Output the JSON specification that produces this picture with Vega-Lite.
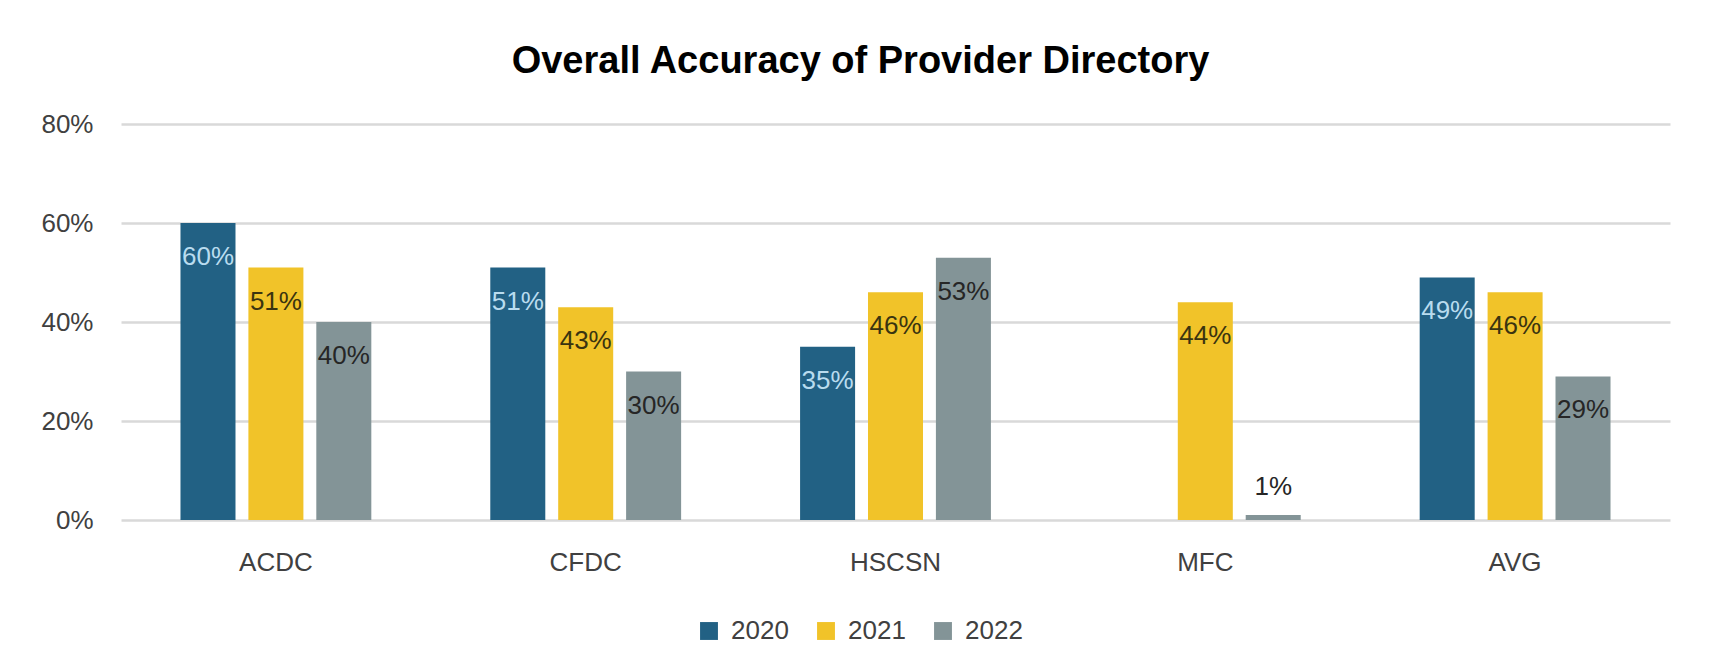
{
  "$schema": "https://vega.github.io/schema/vega-lite/v6.json",
  "autosize": {"type": "none"},
  "padding": {"left": 121, "top": 124, "right": 41, "bottom": 151},
  "width": 1549,
  "height": 396,
  "background": "#ffffff",
  "config": {"view": {"stroke": null}},
  "title": {
    "text": "Overall Accuracy of Provider Directory",
    "font": "Liberation Sans",
    "fontSize": 38,
    "fontWeight": "bold",
    "color": "#000000",
    "anchor": "middle",
    "frame": "group",
    "dx": -35,
    "offset": 30
  },
  "data": {
    "values": [
      {"plan": "ACDC", "year": "2020", "value": 0.60},
      {"plan": "ACDC", "year": "2021", "value": 0.51},
      {"plan": "ACDC", "year": "2022", "value": 0.40},
      {"plan": "CFDC", "year": "2020", "value": 0.51},
      {"plan": "CFDC", "year": "2021", "value": 0.43},
      {"plan": "CFDC", "year": "2022", "value": 0.30},
      {"plan": "HSCSN", "year": "2020", "value": 0.35},
      {"plan": "HSCSN", "year": "2021", "value": 0.46},
      {"plan": "HSCSN", "year": "2022", "value": 0.53},
      {"plan": "MFC", "year": "2021", "value": 0.44},
      {"plan": "MFC", "year": "2022", "value": 0.01},
      {"plan": "AVG", "year": "2020", "value": 0.49},
      {"plan": "AVG", "year": "2021", "value": 0.46},
      {"plan": "AVG", "year": "2022", "value": 0.29}
    ]
  },
  "encoding": {
    "x": {
      "field": "plan",
      "type": "nominal",
      "sort": ["ACDC", "CFDC", "HSCSN", "MFC", "AVG"],
      "scale": {"paddingInner": 0.384, "paddingOuter": 0.192},
      "axis": {
        "title": null,
        "labelAngle": 0,
        "labelFont": "Liberation Sans",
        "labelFontSize": 26,
        "labelColor": "#404040",
        "labelPadding": 29,
        "ticks": false,
        "tickSize": 0,
        "domain": false,
        "grid": false
      }
    },
    "xOffset": {
      "field": "year",
      "type": "nominal",
      "sort": ["2020", "2021", "2022"],
      "scale": {"paddingInner": 0.19, "paddingOuter": 0}
    },
    "y": {
      "field": "value",
      "type": "quantitative",
      "scale": {"domain": [0, 0.8], "nice": false},
      "axis": {
        "title": null,
        "values": [0, 0.2, 0.4, 0.6, 0.8],
        "format": ".0%",
        "labelFont": "Liberation Sans",
        "labelFontSize": 26,
        "labelColor": "#404040",
        "labelPadding": 28,
        "ticks": false,
        "tickSize": 0,
        "domain": false,
        "grid": true,
        "gridColor": "#d9d9d9",
        "gridWidth": 2.5
      }
    }
  },
  "layer": [
    {
      "mark": {"type": "bar"},
      "encoding": {
        "color": {
          "field": "year",
          "type": "nominal",
          "scale": {"domain": ["2020", "2021", "2022"], "range": ["#226184", "#f1c329", "#839497"]},
          "legend": {
            "title": null,
            "orient": "none",
            "direction": "horizontal",
            "legendX": 575,
            "legendY": 494,
            "symbolType": "square",
            "symbolSize": 320,
            "symbolStrokeWidth": 0,
            "labelFont": "Liberation Sans",
            "labelFontSize": 26,
            "labelColor": "#404040",
            "labelOffset": 9,
            "columnPadding": 24
          }
        }
      }
    },
    {
      "transform": [{"filter": "datum.value >= 0.05"}],
      "mark": {"type": "text", "baseline": "middle", "align": "center", "dy": 34, "font": "Liberation Sans", "fontSize": 26},
      "encoding": {
        "text": {"field": "value", "type": "quantitative", "format": ".0%"},
        "color": {
          "field": "year",
          "type": "nominal",
          "scale": {"domain": ["2020", "2021", "2022"], "range": ["#b9dcef", "#3a3410", "#262626"]},
          "legend": null
        }
      }
    },
    {
      "transform": [{"filter": "datum.value < 0.05"}],
      "mark": {"type": "text", "baseline": "middle", "align": "center", "dy": -28, "font": "Liberation Sans", "fontSize": 26, "color": "#262626"},
      "encoding": {
        "text": {"field": "value", "type": "quantitative", "format": ".0%"}
      }
    }
  ],
  "resolve": {"scale": {"color": "independent"}}
}
